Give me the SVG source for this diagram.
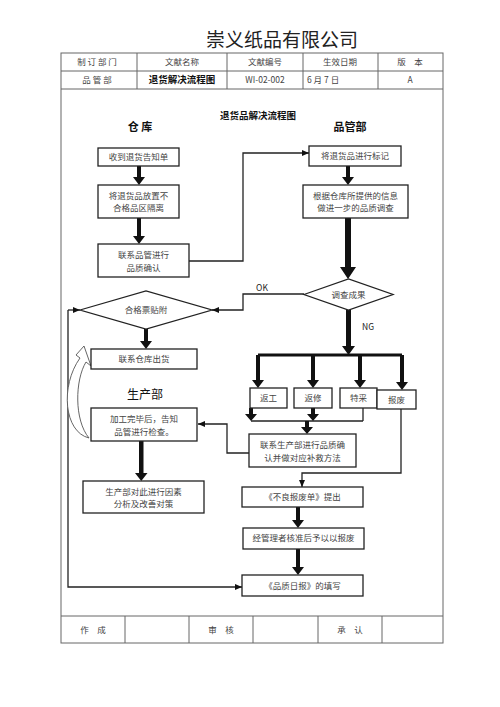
<svg xmlns="http://www.w3.org/2000/svg" width="500" height="707" viewBox="0 0 500 707">
<defs>
<style>
.frame{fill:none;stroke:#666;stroke-width:1}
.box{fill:#fff;stroke:#222;stroke-width:1.3}
.t{font-family:"Noto Sans CJK SC","Liberation Serif",serif;font-size:8.5px;fill:#444;text-anchor:middle}
.h{font-family:"Noto Sans CJK SC",sans-serif;font-size:11px;fill:#111;text-anchor:middle;font-weight:bold}
.ln{fill:none;stroke:#222;stroke-width:1.3}
.thick{fill:#111;stroke:none}
</style>
<marker id="ah" markerWidth="8" markerHeight="8" refX="7" refY="4" orient="auto" markerUnits="userSpaceOnUse">
<path d="M0,1 L7,4 L0,7 Z" fill="#111"/>
</marker>
</defs>
<rect width="500" height="707" fill="#fff"/>
<text x="282" y="47" font-family="Noto Sans CJK SC,sans-serif" font-size="19" fill="#222" text-anchor="middle">崇义纸品有限公司</text>
<g id="frame">
<rect class="frame" x="61" y="53" width="382" height="590"/>
<line class="frame" x1="61" y1="71" x2="443" y2="71"/>
<line class="frame" x1="61" y1="89" x2="443" y2="89"/>
<line class="frame" x1="137" y1="53" x2="137" y2="89"/>
<line class="frame" x1="227" y1="53" x2="227" y2="89"/>
<line class="frame" x1="303" y1="53" x2="303" y2="89"/>
<line class="frame" x1="378" y1="53" x2="378" y2="89"/>
<line class="frame" x1="61" y1="616" x2="443" y2="616"/>
<line class="frame" x1="125" y1="616" x2="125" y2="643"/>
<line class="frame" x1="189" y1="616" x2="189" y2="643"/>
<line class="frame" x1="253" y1="616" x2="253" y2="643"/>
<line class="frame" x1="318" y1="616" x2="318" y2="643"/>
<line class="frame" x1="382" y1="616" x2="382" y2="643"/>
<text class="t" x="97" y="65">制 订 部 门</text>
<text class="t" x="182" y="65">文献名称</text>
<text class="t" x="265" y="65">文献编号</text>
<text class="t" x="340" y="65">生效日期</text>
<text class="t" x="410" y="65">版　本</text>
<text class="t" x="97" y="83">品 管 部</text>
<text class="t" x="182" y="83" style="font-weight:bold;fill:#111;font-size:9.5px">退货解决流程图</text>
<text class="t" x="265" y="83">WI-02-002</text>
<text class="t" x="307" y="83" style="text-anchor:start">6 月 7 日</text>
<text class="t" x="410" y="83">A</text>
<text class="t" x="93" y="633">作　成</text>
<text class="t" x="221" y="633">审　核</text>
<text class="t" x="350" y="633">承　认</text>
</g>
<text x="258" y="119" font-family="Noto Sans CJK SC,sans-serif" font-size="9.5" font-weight="bold" fill="#111" text-anchor="middle">退货品解决流程图</text>
<text class="h" x="140" y="131">仓 库</text>
<text class="h" x="350" y="131">品管部</text>
<text class="h" x="145" y="399" style="font-weight:normal;font-size:12px">生产部</text>
<g id="connectors">
<polyline class="ln" points="189,261 243,261 243,153 309,153" marker-end="url(#ah)"/>
<polyline class="ln" points="304,294 243,294 243,310 212,310" marker-end="url(#ah)"/>
<polyline class="ln" points="249,453 227,453 227,424 198,424" marker-end="url(#ah)"/>
<polyline class="ln" points="401,409 401,473 302,473 302,487" marker-end="url(#ah)"/>
<polyline class="ln" points="68,310 80,310" marker-end="url(#ah)"/>
<polyline class="ln" points="68,310 68,587 242,587" marker-end="url(#ah)"/>
<polyline class="ln" points="251,421 363,421"/>
<polyline class="ln" points="363,408 363,421"/>
<rect class="thick" x="258" y="353.5" width="144" height="3"/>
<path class="thick" d="M137,166 h4 v11 h4 l-6,8 l-6,-8 h4 z"/>
<path class="thick" d="M137,218 h4 v18 h4 l-6,8 l-6,-8 h4 z"/>
<path class="thick" d="M346,166 h4 v11 h4 l-6,8 l-6,-8 h4 z"/>
<path class="thick" d="M345,218 h6 v49 h5 l-8,12 l-8,-12 h5 z"/>
<path class="thick" d="M144,329 h4 v12 h4 l-6,8 l-6,-8 h4 z"/>
<path class="thick" d="M346,310 h5 v36 h4 l-6.5,9 l-6.5,-9 h4 z"/>
<path class="thick" d="M256,355 h4 v25 h4 l-6,8 l-6,-8 h4 z"/>
<path class="thick" d="M311,355 h4 v25 h4 l-6,8 l-6,-8 h4 z"/>
<path class="thick" d="M358,355 h4 v25 h4 l-6,8 l-6,-8 h4 z"/>
<path class="thick" d="M400,355 h4 v27 h4 l-6,8 l-6,-8 h4 z"/>
<path class="thick" d="M249,408 h4 v6 h4 l-6,7 l-6,-7 h4 z"/>
<path class="thick" d="M311,408 h4 v6 h4 l-6,7 l-6,-7 h4 z"/>
<path class="thick" d="M305,421 h4 v6 h4 l-6,7 l-6,-7 h4 z"/>
<path class="thick" d="M139,441 h4.5 v32 h4 l-6.25,8 l-6.25,-8 h4 z"/>
<path class="thick" d="M296,507 h4 v13 h4 l-6,8 l-6,-8 h4 z"/>
<path class="thick" d="M296,549 h4 v18 h4 l-6,8 l-6,-8 h4 z"/>
<path d="M89,438 C64,432 60,386 80,358 L76,355 L84,346 L91,366 L86,362 C75,380 74,420 89,438 Z" fill="#fff" stroke="#555" stroke-width="0.9"/>
</g>
<g id="n1"><rect class="box" x="98" y="148" width="81" height="18"/><text class="t" x="138.5" y="160">收到退货告知单</text></g>
<g id="n2"><rect class="box" x="98" y="185" width="81" height="33"/><text class="t" x="138.5" y="199">将退货品放置不</text><text class="t" x="138.5" y="211">合格品区隔离</text></g>
<g id="n3"><rect class="box" x="98" y="244" width="91" height="33"/><text class="t" x="143.5" y="258">联系品管进行</text><text class="t" x="143.5" y="271">品质确认</text></g>
<g id="n4"><rect class="box" x="309" y="146" width="92" height="20"/><text class="t" x="355" y="159">将退货品进行标记</text></g>
<g id="n5"><rect class="box" x="303" y="185" width="105" height="33"/><text class="t" x="355.5" y="199">根据仓库所提供的信息</text><text class="t" x="355.5" y="211">做进一步的品质调查</text></g>
<g id="n6"><polygon class="box" points="304,294.5 348.5,279 393,294.5 348.5,310"/><text class="t" x="348.5" y="297.5">调查成果</text></g>
<text class="t" x="262" y="291" style="fill:#222">OK</text>
<text class="t" x="368" y="330" style="fill:#222">NG</text>
<g id="n7"><polygon class="box" points="80,310 146,291 212,310 146,329"/><text class="t" x="146" y="313">合格票贴附</text></g>
<g id="n8"><rect class="box" x="91" y="349" width="106" height="20"/><text class="t" x="144" y="362">联系仓库出货</text></g>
<g id="n9"><rect class="box" x="250" y="388" width="37" height="20"/><text class="t" x="268.5" y="401">返工</text></g>
<g id="n10"><rect class="box" x="294" y="388" width="38" height="20"/><text class="t" x="313" y="401">返修</text></g>
<g id="n11"><rect class="box" x="340" y="388" width="37" height="20"/><text class="t" x="358.5" y="401">特采</text></g>
<g id="n12"><rect class="box" x="377" y="390" width="39" height="19"/><text class="t" x="396.5" y="403">报废</text></g>
<g id="n13"><rect class="box" x="91" y="408" width="106" height="33"/><text class="t" x="144" y="422">加工完毕后，告知</text><text class="t" x="144" y="435">品管进行检查。</text></g>
<g id="n14"><rect class="box" x="249" y="434" width="107" height="33"/><text class="t" x="302.5" y="448">联系生产部进行品质确</text><text class="t" x="302.5" y="461">认并做对应补救方法</text></g>
<g id="n15"><rect class="box" x="83" y="481" width="121" height="32"/><text class="t" x="143.5" y="495">生产部对此进行因素</text><text class="t" x="143.5" y="507">分析及改善对策</text></g>
<g id="n16"><rect class="box" x="242" y="487" width="121" height="20"/><text class="t" x="302.5" y="500">《不良报废单》提出</text></g>
<g id="n17"><rect class="box" x="243" y="528" width="121" height="21"/><text class="t" x="303.5" y="541">经管理者核准后予以以报废</text></g>
<g id="n18"><rect class="box" x="242" y="575" width="121" height="21"/><text class="t" x="302.5" y="589">《品质日报》的填写</text></g>
</svg>
